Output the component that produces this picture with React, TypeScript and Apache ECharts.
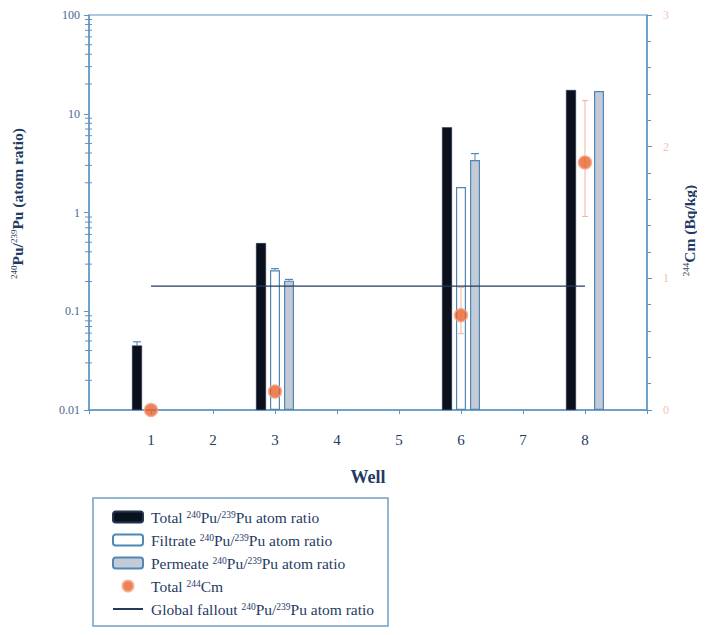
import React, { useEffect, useRef } from "react";
import * as echarts from "echarts";

// ---- data ----
const wells = ["1", "2", "3", "4", "5", "6", "7", "8"];
const totalPu = [0.045, null, 0.49, null, null, 7.3, null, 17.4];
const filtratePu = [null, null, 0.26, null, null, 1.81, null, null];
const permeatePu = [null, null, 0.204, null, null, 3.4, null, 17.0];
const totalPuErrHigh = [0.049, null, null, null, null, null, null, null];
const filtratePuErrHigh = [null, null, 0.27, null, null, null, null, null];
const permeatePuErrHigh = [null, null, 0.21, null, null, 3.95, null, null];
const totalCm = [0, null, 0.14, null, null, 0.72, null, 1.88];
const cmErrLow = [null, null, null, null, null, 0.58, null, 1.47];
const cmErrHigh = [null, null, null, null, null, 0.93, null, 2.35];
const globalFallout = 0.18;
const falloutFrom = "1";
const falloutTo = "8";
const leftTicks = [0.01, 0.1, 1, 10, 100];
const leftMinorMultipliers = [2, 3, 4, 5, 6, 7, 8, 9];
const rightTicks = [0, 1, 2, 3];

const FONT = "Liberation Serif";
const AXIS = "#5e93c2";
const TEXT = "#1f3b63";

const cats = ["0", ...wells, "9"];
const pad = (a) => [null, ...a, null];
const toLog = (v) => (v == null ? null : Math.log10(v) + 2);

const sup = (s) => `{s|${s}}`;
const puRatio = `${sup("240")}{n|Pu/}${sup("239")}{n|Pu atom ratio}`;
const legendNames = {
  Total: `{n|Total }${puRatio}`,
  Filtrate: `{n|Filtrate }${puRatio}`,
  Permeate: `{n|Permeate }${puRatio}`,
  "Total Cm": `{n|Total }${sup("244")}{n|Cm}`,
  "Global fallout": `{n|Global fallout }${puRatio}`,
};

export default function App() {
  const ref = useRef(null);
  useEffect(() => {
    const chart = echarts.init(ref.current, null, { renderer: "svg" });
    const barOffsets = { Total: -14, Filtrate: 0, Permeate: 14 };
    const capData = [];
    [
      ["Total", totalPuErrHigh, totalPu],
      ["Filtrate", filtratePuErrHigh, filtratePu],
      ["Permeate", permeatePuErrHigh, permeatePu],
    ].forEach(([name, hi, base]) => {
      hi.forEach((h, i) => {
        if (h != null) capData.push([i + 1, h, base[i], barOffsets[name]]);
      });
    });
    const cmErrData = [];
    cmErrLow.forEach((lo, i) => {
      if (lo != null) cmErrData.push([i + 1, lo, cmErrHigh[i]]);
    });
    const minorTickData = [];
    leftTicks.slice(0, -1).forEach((d) => {
      leftMinorMultipliers.forEach((m) => minorTickData.push([0, m * d]));
    });

    chart.setOption({
      animation: false,
      textStyle: { fontFamily: FONT },
      grid: {
        left: 89,
        right: 52,
        top: 15,
        bottom: 225,
        show: true,
        borderColor: AXIS,
        borderWidth: 1,
      },
      legend: {
        orient: "vertical",
        left: 112,
        top: 509,
        padding: 0,
        itemWidth: 30,
        itemHeight: 11,
        itemGap: 7,
        data: [
          "Total",
          "Filtrate",
          "Permeate",
          "Total Cm",
          { name: "Global fallout", itemStyle: { opacity: 0 } },
        ],
        formatter: (n) => legendNames[n] || n,
        textStyle: {
          padding: [0, 0, 0, 3],
          rich: {
            n: { fontFamily: FONT, fontSize: 15.5, lineHeight: 15, color: TEXT },
            s: { fontFamily: FONT, fontSize: 9.5, lineHeight: 15, color: TEXT, verticalAlign: "top", padding: [0, 0, 5, 0] },
          },
        },
      },
      graphic: [
        {
          type: "rect",
          shape: { x: 93, y: 498, width: 295, height: 128 },
          style: { fill: "none", stroke: "#6fa0c8", lineWidth: 1.5 },
        },
      ],
      xAxis: {
        type: "category",
        data: cats,
        boundaryGap: false,
        axisLine: { lineStyle: { color: AXIS, width: 1.5 } },
        axisTick: { show: true, length: 4, lineStyle: { color: AXIS } },
        axisLabel: {
          formatter: (v) => (v === "0" || v === "9" ? "" : v),
          margin: 22,
          fontSize: 15,
          color: TEXT,
          fontFamily: FONT,
        },
        splitLine: { show: false },
        name: "Well",
        nameLocation: "middle",
        nameGap: 58,
        nameTextStyle: { fontSize: 18, fontWeight: "bold", color: TEXT, fontFamily: FONT },
      },
      yAxis: [
        {
          type: "log",
          logBase: 10,
          min: leftTicks[0],
          max: leftTicks[leftTicks.length - 1],
          position: "left",
          axisLine: { show: true, lineStyle: { color: AXIS, width: 1.5 } },
          axisTick: { show: true, length: 5, lineStyle: { color: AXIS } },
          splitLine: { show: false },
          axisLabel: {
            formatter: (v) => String(Number(Number(v).toPrecision(3))),
            fontSize: 12,
            color: "#4a6890",
            margin: 9,
            fontFamily: FONT,
          },
          name: `{s|240}{n|Pu/}{s|239}{n|Pu (atom ratio)}`,
          nameLocation: "middle",
          nameGap: 64,
          nameTextStyle: {
            padding: [0, 0, 0, 18],
            rich: {
              n: { fontFamily: FONT, fontSize: 15.5, color: TEXT, fontWeight: "bold" },
              s: { fontFamily: FONT, fontSize: 9, color: TEXT, verticalAlign: "top", padding: [0, 0, 7, 0] },
            },
          },
        },
        {
          type: "value",
          min: rightTicks[0],
          max: rightTicks[rightTicks.length - 1],
          interval: 1,
          position: "right",
          axisLine: { show: true, lineStyle: { color: AXIS, width: 1.5 } },
          axisTick: { show: true, length: 5, lineStyle: { color: AXIS } },
          minorTick: { show: true, splitNumber: 5, length: 4, lineStyle: { color: AXIS } },
          splitLine: { show: false },
          axisLabel: { color: "#f2c2ae", fontSize: 12, margin: 16, fontFamily: FONT },
          name: `{s|244}{n|Cm (Bq/kg)}`,
          nameLocation: "middle",
          nameRotate: 90,
          nameGap: 34,
          nameTextStyle: {
            padding: [0, 0, 0, -36],
            rich: {
              n: { fontFamily: FONT, fontSize: 15.5, color: TEXT, fontWeight: "bold" },
              s: { fontFamily: FONT, fontSize: 9, color: TEXT, verticalAlign: "top", padding: [0, 0, 7, 0] },
            },
          },
        },
        { type: "value", min: 0, max: 4, show: false },
      ],
      series: [
        {
          name: "Total",
          type: "bar",
          yAxisIndex: 2,
          data: pad(totalPu.map(toLog)),
          barWidth: 10,
          barGap: "40%",
          itemStyle: { color: "#0b101d", borderColor: "#22344f", borderWidth: 0.5 },
        },
        {
          name: "Filtrate",
          type: "bar",
          yAxisIndex: 2,
          data: pad(filtratePu.map(toLog)),
          barWidth: 10,
          barGap: "40%",
          itemStyle: { color: "#ffffff", borderColor: "#4f87b5", borderWidth: 1.2 },
        },
        {
          name: "Permeate",
          type: "bar",
          yAxisIndex: 2,
          data: pad(permeatePu.map(toLog)),
          barWidth: 10,
          barGap: "40%",
          itemStyle: { color: "#c4cbd6", borderColor: "#4f87b5", borderWidth: 1.2 },
        },
        {
          name: "Global fallout",
          type: "line",
          yAxisIndex: 0,
          symbol: "none",
          data: [
            [falloutFrom, globalFallout],
            [falloutTo, globalFallout],
          ],
          lineStyle: { color: "#243a5c", width: 1.3 },
          itemStyle: { color: "#243a5c" },
          z: 3,
        },
        {
          type: "custom",
          yAxisIndex: 0,
          data: minorTickData,
          silent: true,
          clip: false,
          z: 10,
          renderItem: (params, api) => {
            const p = api.coord([api.value(0), api.value(1)]);
            return {
              type: "line",
              shape: { x1: p[0] - 4, y1: p[1], x2: p[0] + 3, y2: p[1] },
              style: { stroke: "#5e93c2", lineWidth: 1 },
            };
          },
        },
        {
          type: "custom",
          yAxisIndex: 0,
          data: capData,
          z: 2,
          renderItem: (params, api) => {
            const top = api.coord([api.value(0), api.value(1)]);
            const base = api.coord([api.value(0), api.value(2)]);
            const x = top[0] + api.value(3);
            return {
              type: "group",
              children: [
                { type: "line", shape: { x1: x, y1: base[1], x2: x, y2: top[1] }, style: { stroke: "#4f87b5", lineWidth: 1 } },
                { type: "line", shape: { x1: x - 4, y1: top[1], x2: x + 4, y2: top[1] }, style: { stroke: "#4f87b5", lineWidth: 1.2 } },
              ],
            };
          },
        },
        {
          type: "custom",
          yAxisIndex: 1,
          data: cmErrData,
          z: 4,
          renderItem: (params, api) => {
            const lo = api.coord([api.value(0), api.value(1)]);
            const hi = api.coord([api.value(0), api.value(2)]);
            return {
              type: "group",
              children: [
                { type: "line", shape: { x1: lo[0], y1: lo[1], x2: hi[0], y2: hi[1] }, style: { stroke: "#f0b49c", lineWidth: 1 } },
                { type: "line", shape: { x1: lo[0] - 3, y1: lo[1], x2: lo[0] + 3, y2: lo[1] }, style: { stroke: "#f0b49c", lineWidth: 1 } },
                { type: "line", shape: { x1: hi[0] - 3, y1: hi[1], x2: hi[0] + 3, y2: hi[1] }, style: { stroke: "#f0b49c", lineWidth: 1 } },
              ],
            };
          },
        },
        {
          name: "Total Cm",
          type: "scatter",
          yAxisIndex: 1,
          data: pad(totalCm),
          symbolSize: 13,
          itemStyle: { color: "#e8622d", borderColor: "#f4a888", borderWidth: 1.5 },
          z: 5,
        },
      ],
    });
    return () => chart.dispose();
  }, []);
  return <div ref={ref} style={{ width: 705, height: 635, marginLeft: -8, marginTop: -8 }} />;
}
